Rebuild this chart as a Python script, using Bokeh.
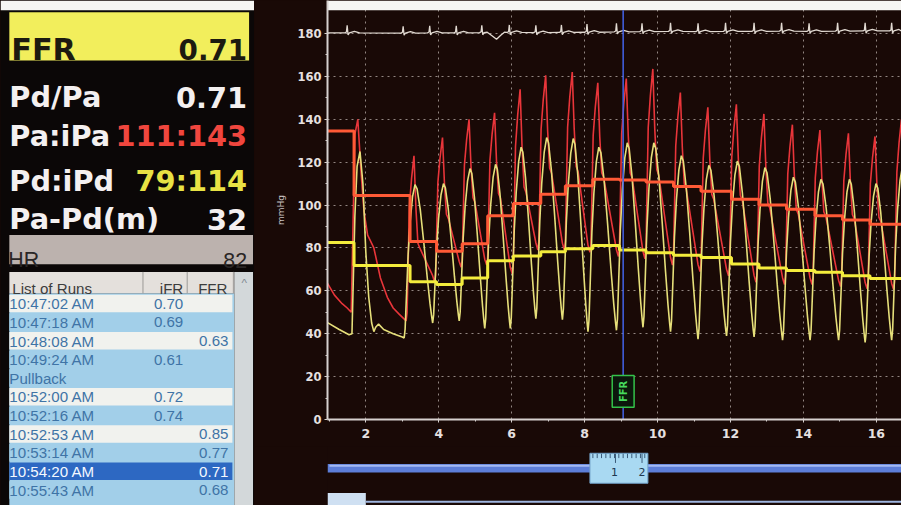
import numpy as np
from bokeh.plotting import figure
from bokeh.models import Range1d, FixedTicker, ColumnDataSource
from bokeh.layouts import row, column
from bokeh.core.properties import value
from bokeh.embed import file_html
from bokeh.resources import INLINE

# ---------------- values ----------------
ffr_label = "FFR"
ffr_value = "0.71"
metric_labels = ["Pd/Pa", "Pa:iPa", "Pd:iPd", "Pa-Pd(m)"]
metric_values = ["0.71", "111:143", "79:114", "32"]
hr_label = "HR"
hr_value = "82"

table_headers = ["List of Runs", "iFR", "FFR"]
run_times = ["10:47:02 AM", "10:47:18 AM", "10:48:08 AM", "10:49:24 AM", "Pullback",
             "10:52:00 AM", "10:52:16 AM", "10:52:53 AM", "10:53:14 AM", "10:54:20 AM",
             "10:55:43 AM"]
run_ifr = ["0.70", "0.69", "", "0.61", "", "0.72", "0.74", "", "", "", ""]
run_ffr = ["", "", "0.63", "", "", "", "", "0.85", "0.77", "0.71", "0.68"]
selected_run = "10:54:20 AM"

x_ticks = [2, 4, 6, 8, 10, 12, 14, 16]
x_minor = [1, 3, 5, 7, 9, 11, 13, 15]
y_ticks = [0, 20, 40, 60, 80, 100, 120, 140, 160, 180]
y_minor = [10, 30, 50, 70, 90, 110, 130, 150, 170]

# first (long) beat, read point by point  (time s, mmHg)
pa_start_t = [0.95, 1.14, 1.35, 1.49, 1.60, 1.70, 1.78, 1.87, 1.95, 2.05, 2.22, 2.40, 2.59, 2.75, 2.92]
pa_start_v = [63.5, 58, 54, 52, 50, 133, 140, 115, 97, 86, 80, 66, 57, 52, 49]
pd_start_t = [0.95, 1.27, 1.54, 1.62, 1.70, 1.76, 1.84, 1.92, 2.00, 2.08, 2.16, 2.22, 2.27, 2.35, 2.49, 2.75, 3.00]
pd_start_v = [45.2, 42, 39.5, 40, 95, 118, 125, 110, 78, 57, 45, 41, 43, 44.5, 42, 40, 38.5]

# regular beats: onset time of the aortic upstroke, diastolic & systolic values
beat_t = [3.105, 3.887, 4.615, 5.315, 6.016, 6.717, 7.445, 8.146, 8.927, 9.655,
          10.410, 11.164, 11.946, 12.701, 13.482, 14.237, 15.019, 15.747, 16.474]
pa_dia = [46, 64, 71, 72, 68, 79, 79, 78, 76, 75, 72, 69, 67, 64, 63, 63, 62, 61, 60.6]
pa_sys = [123, 131.5, 140, 143, 154, 160.5, 162, 157, 159, 163.5, 152.5, 145.6, 147,
          142.5, 137.5, 135, 133.5, 132, 140]
pd_dia = [38, 45, 46, 42.5, 42.5, 47, 46.5, 41, 41.6, 43, 41, 37.5, 39, 38.5, 37, 37, 37, 36, 37]
pd_sys = [109.5, 110, 117, 119, 127, 131.5, 131, 127, 129, 129, 123, 118.5, 120.5,
          117.5, 113, 112, 112, 110, 118]

# beat-averaged means (step traces)
mean_edges_t = [0.949, 1.677, 3.213, 3.941, 4.642, 5.342, 6.043, 6.798, 7.472, 8.226, 8.954,
                9.682, 10.437, 11.191, 12.027, 12.782, 13.536, 14.318, 15.073, 15.827, 16.69]
pa_mean = [134.5, 104.5, 83, 78.5, 82, 95, 100.7, 105, 109, 112, 111.7, 110.8, 108.7,
           106.4, 102.7, 100, 98, 95, 93, 91]
pd_mean = [82.6, 71.8, 64.2, 63, 66, 74, 76.3, 78.2, 79.6, 81.1, 79, 77.8, 76.6, 75.5,
           72.5, 70.6, 69.5, 68.7, 67, 65.7]

# ECG (drawn on the 180 line)
ecg_spike_t = [1.488, 3.024, 3.752, 4.480, 5.181, 5.935, 6.663, 7.364, 8.065, 8.873,
               9.574, 10.356, 11.111, 11.865, 12.647, 13.402, 14.156, 14.938, 15.693, 16.420]
ecg_base = [180.3, 180.2, 180.3, 180.3, 180.4, 180.5, 180.4, 180.5, 180.6, 180.8,
            180.9, 181.0, 180.9, 181.0, 181.0, 181.1, 181.0, 181.1, 181.2, 181.2]
ecg_top = [183.8, 183.4, 183.6, 183.6, 183.8, 184.0, 183.8, 184.0, 184.4, 184.8,
           184.8, 185.0, 184.8, 185.0, 185.0, 185.0, 184.8, 185.0, 185.0, 185.0]
ecg_dip_t = [5.33, 5.46, 5.585, 5.70, 5.80]
ecg_dip_v = [180.6, 179.0, 177.3, 179.2, 180.6]

cursor_t = 9.057
marker_label = "FFR"

# ---------------- styling ----------------
BG = "#190906"
PANEL = "#0b0707"
PX = 1 / 37.1  # one reference pixel in seconds (shape offsets)
T_MIN, T_MAX = 0.949, 16.69
Y_MAX = 195.4
FS = 0.975  # font scale

def fpx(v):
    return "%.1fpx" % (v * FS)

RED_RISE = [(0, 0.0), (1, 0.05), (3.3, 0.69), (5.5, 0.86), (8, 1.0), (10, 0.68), (12, 0.47), (14, 0.44)]
YEL_RISE = [(0, 0.0), (1, 0.06), (2.5, 0.30), (4, 0.54), (6, 0.75), (8.5, 0.92), (11, 1.0)]
YEL_FALL = [(0.12, 0.97), (0.30, 0.82), (0.50, 0.58), (0.70, 0.32), (0.85, 0.14), (0.95, 0.04)]


def pa_trace():
    xs, ys = list(pa_start_t), list(pa_start_v)
    n = len(beat_t)
    for i in range(n):
        F, lo, hi = beat_t[i], pa_dia[i], pa_sys[i]
        A = hi - lo
        for o, fr in RED_RISE:
            xs.append(F + o * PX)
            ys.append(lo + fr * A)
        if i + 1 < n:
            xs.append(beat_t[i + 1] - 2 * PX)
            ys.append(pa_dia[i + 1] + 0.04 * A)
    return xs, ys


def pd_trace():
    xs, ys = list(pd_start_t), list(pd_start_v)
    n = len(beat_t)
    for i in range(n):
        T = beat_t[i] - 2 * PX
        lo, hi = pd_dia[i], pd_sys[i]
        for o, fr in YEL_RISE:
            xs.append(T + o * PX)
            ys.append(lo + fr * (hi - lo))
        P = T + 11 * PX
        if i + 1 < n:
            T2 = beat_t[i + 1] - 2 * PX
            lo2 = pd_dia[i + 1]
            for fpos, fr in YEL_FALL:
                xs.append(P + fpos * (T2 - P))
                ys.append(lo2 + fr * (hi - lo2))
    return xs, ys


def ecg_trace():
    shape = [(-0.06, 0.0), (-0.02, 0.4), (0.0, None), (0.025, -1.0), (0.06, 0.0), (0.2, 0.7), (0.34, 0.0)]
    pts = [(T_MIN, ecg_base[0])]
    for t, b, top in zip(ecg_spike_t, ecg_base, ecg_top):
        for dt, dv in shape:
            tt = t + dt
            if ecg_dip_t[0] <= tt <= ecg_dip_t[-1]:
                continue
            pts.append((tt, top if dv is None else b + dv))
    pts += list(zip(ecg_dip_t, ecg_dip_v))
    pts.append((T_MAX, ecg_base[-1]))
    pts.sort()
    return [p[0] for p in pts], [p[1] for p in pts]


# ---------------- left panel (coordinates = reference pixels) ----------------
left = figure(width=254, height=505, x_range=Range1d(0, 258.5), y_range=Range1d(521, 0),
              x_axis_type=None, y_axis_type=None, output_backend="svg", toolbar_location=None,
              min_border=0, background_fill_color=PANEL, border_fill_color=PANEL,
              outline_line_color=None)
left.grid.visible = False

F_BIG = value("DejaVu Sans")
F_TAB = value("Liberation Sans")

left.quad(left=0, right=258.5, top=0, bottom=10, fill_color="#f6f6f4", line_color=None)
left.quad(left=9, right=253, top=12, bottom=62, fill_color="#f2ee5c", line_color=None)
left.text(x=[11], y=[51], text=[ffr_label], text_font=F_BIG, text_font_size=fpx(31),
          text_font_style="bold", text_color="#1c1a10", text_align="left", text_baseline="alphabetic")
left.text(x=[251], y=[51], text=[ffr_value], text_font=F_BIG, text_font_size=fpx(28.5),
          text_font_style="bold", text_color="#1c1a10", text_align="right", text_baseline="alphabetic")

met_y = [100, 139.5, 186.5, 225.5]
met_src = ColumnDataSource(dict(y=met_y, lab=metric_labels, val=metric_values,
                                col=["#f4f0f0", "#f0463e", "#e8e244", "#f4f0f0"]))
left.text(x=9, y="y", text="lab", source=met_src, text_font=F_BIG, text_font_size=fpx(29.5),
          text_font_style="bold", text_color="#f4f0f0", text_align="left", text_baseline="alphabetic")
left.text(x=251, y="y", text="val", source=met_src, text_font=F_BIG, text_font_size=fpx(29.5),
          text_font_style="bold", text_color="col", text_align="right", text_baseline="alphabetic")

left.quad(left=9, right=257, top=242, bottom=272, fill_color="#bcb2ae", line_color=None)
left.text(x=[8], y=[268], text=[hr_label], text_font=F_TAB, text_font_size=fpx(22),
          text_color="#2a2626", text_align="left", text_baseline="alphabetic")
left.text(x=[251], y=[268], text=[hr_value], text_font=F_TAB, text_font_size=fpx(22),
          text_color="#2a2626", text_align="right", text_baseline="alphabetic")

# table
left.quad(left=9, right=238, top=302, bottom=521, fill_color="#a2cfe9", line_color=None)
left.quad(left=238, right=257, top=280, bottom=521, fill_color="#d3d8da", line_color=None)
left.quad(left=9, right=238, top=280, bottom=302, fill_color="#e4e0dc", line_color=None)
left.segment(x0=[145, 190, 237], y0=[280, 280, 280], x1=[145, 190, 237], y1=[302, 302, 302],
             line_color="#9c9a98", line_width=1)
left.text(x=[248], y=[291], text=["^"], text_font=F_TAB, text_font_size=fpx(12),
          text_color="#808890", text_align="center", text_baseline="middle")
left.text(x=[12, 186, 231], y=[297, 297, 297], text=table_headers, text_font=F_TAB,
          text_font_size=fpx(15.5), text_color="#3c3c3c", text_align=["left", "right", "right"],
          text_baseline="alphabetic")

ROW0, ROW_H = 303, 19.25
tops, fills, tcols = [], [], []
k = 0
for i, name in enumerate(run_times):
    top = ROW0 + ROW_H * i
    tops.append(top)
    empty = run_ifr[i] == "" and run_ffr[i] == ""
    if name == selected_run:
        fills.append("#2d68c2"); tcols.append("#f4f8ff")
    elif empty:
        fills.append("#a2cfe9"); tcols.append("#3f74a6")
    else:
        fills.append("#f1f2ee" if k % 2 == 0 else "#a2cfe9"); tcols.append("#3f74a6")
    if not empty:
        k += 1
tops = np.array(tops)
row_src = ColumnDataSource(dict(top=tops + 0.5, bot=tops + 18.5, mid=tops + 9.8, fill=fills,
                                tc=tcols, name=run_times, ifr=run_ifr, ffr=run_ffr))
left.quad(left=9, right=236, top="top", bottom="bot", fill_color="fill", line_color=None, source=row_src)
for col, xx, al in (("name", 9, "left"), ("ifr", 186, "right"), ("ffr", 232, "right")):
    left.text(x=xx, y="mid", text=col, source=row_src, text_font=F_TAB, text_font_size=fpx(15.5),
              text_color="tc", text_align=al, text_baseline="middle")

# ---------------- chart ----------------
chart = figure(width=647, height=446, x_range=Range1d(T_MIN, T_MAX), y_range=Range1d(0, Y_MAX),
               output_backend="svg", toolbar_location=None,
               min_border_left=73, min_border_right=0, min_border_top=0, min_border_bottom=27,
               background_fill_color=BG, border_fill_color=BG, outline_line_color=None)
chart.xaxis.ticker = FixedTicker(ticks=x_ticks, minor_ticks=x_minor)
chart.yaxis.ticker = FixedTicker(ticks=y_ticks, minor_ticks=y_minor)
for ax in (chart.xaxis[0], chart.yaxis[0]):
    ax.axis_line_color = "#d6d0ce"
    ax.axis_line_width = 2
    ax.major_tick_line_color = "#d6d0ce"
    ax.major_tick_in = 0
    ax.major_tick_out = 3
    ax.minor_tick_line_color = "#d6d0ce"
    ax.minor_tick_in = 0
    ax.minor_tick_out = 2
    ax.major_label_text_color = "#e6e0e0"
    ax.major_label_text_font = "DejaVu Sans"
    ax.major_label_text_font_style = "bold"
chart.xaxis.major_label_text_font_size = "12.5px"
chart.xaxis.major_label_standoff = 6
chart.yaxis.major_label_text_font_size = "11.5px"
chart.yaxis.major_label_standoff = 3
chart.yaxis.axis_label = "mmHg"
chart.yaxis.axis_label_text_font_size = "9px"
chart.yaxis.axis_label_text_font_style = "normal"
chart.yaxis.axis_label_text_color = "#c8c0c0"
chart.yaxis.axis_label_text_font = "DejaVu Sans"
chart.yaxis.axis_label_standoff = 8
for g in (chart.xgrid[0], chart.ygrid[0]):
    g.grid_line_color = "#bcb0ac"
    g.grid_line_dash = "2 4"
    g.grid_line_alpha = 0.75
    g.grid_line_width = 1

# white border of the photographed screen
chart.quad(left=[T_MIN], right=[T_MAX], bottom=[190.9], top=[Y_MAX], fill_color="#f6f6f4", line_color=None)

px_, py_ = pa_trace()
dx_, dy_ = pd_trace()
chart.line(px_, py_, line_color="#e8353a", line_width=1.6)
chart.line(dx_, dy_, line_color="#e6df7a", line_width=1.6)
chart.step(mean_edges_t, pa_mean + [pa_mean[-1]], mode="after", line_color="#ff5a36", line_width=3)
chart.step(mean_edges_t, pd_mean + [pd_mean[-1]], mode="after", line_color="#f4ec3c", line_width=3)
ex_, ey_ = ecg_trace()
chart.line(ex_, ey_, line_color="#e2dad2", line_width=1.3)

chart.segment(x0=[cursor_t], y0=[-2], x1=[cursor_t], y1=[190.9], line_color="#4262e6",
              line_width=1.6, line_alpha=0.95)
chart.quad(left=[cursor_t - 0.30], right=[cursor_t + 0.30], bottom=[5.7], top=[20.5],
           fill_color="#0c170c", line_color="#34c24a", line_width=1.5)
chart.text(x=[cursor_t], y=[13.1], text=[marker_label], angle=np.pi / 2, text_font=value("DejaVu Sans"),
           text_font_size="10px", text_font_style="bold", text_color="#46d85c",
           text_align="center", text_baseline="middle")

# ---------------- scroll / ruler strip (coordinates = reference pixels) ----------------
strip = figure(width=647, height=59, x_range=Range1d(333, 917), y_range=Range1d(521, 460),
               x_axis_type=None, y_axis_type=None, output_backend="svg", toolbar_location=None,
               min_border=0, min_border_left=73, background_fill_color=BG, border_fill_color=BG,
               outline_line_color=None)
strip.grid.visible = False
strip.quad(left=333, right=917, top=478, bottom=487, fill_color="#5d7ed8", line_color=None)
strip.segment(x0=[335], y0=[480], x1=[917], y1=[480], line_color="#a4baf2", line_width=2)
strip.quad(left=600, right=659, top=467, bottom=498, fill_color="#a9d9f2", line_color="#6f9fc6")
rx = np.arange(603, 657, 4.4)
strip.segment(x0=rx, y0=np.full(len(rx), 467.5), x1=rx, y1=np.full(len(rx), 472),
              line_color="#3a5a78", line_width=1)
strip.segment(x0=[626, 653], y0=[467.5, 467.5], x1=[626, 653], y1=[477, 477],
              line_color="#3a5a78", line_width=1)
strip.text(x=[625, 653], y=[486, 486], text=["1", "2"], text_font=value("DejaVu Sans"),
           text_font_size="11px", text_color="#203850", text_align="center", text_baseline="middle")
strip.quad(left=333, right=372, top=508, bottom=521, fill_color="#cfe0f2", line_color=None)
strip.segment(x0=[372], y0=[517], x1=[917], y1=[517], line_color="#9fb6e0", line_width=2)

right_col = column(chart, strip, spacing=0, styles={"background-color": BG})
layout = row(left, right_col, spacing=0, styles={"background-color": BG})
open("out.html", "w").write(file_html(layout, INLINE))
